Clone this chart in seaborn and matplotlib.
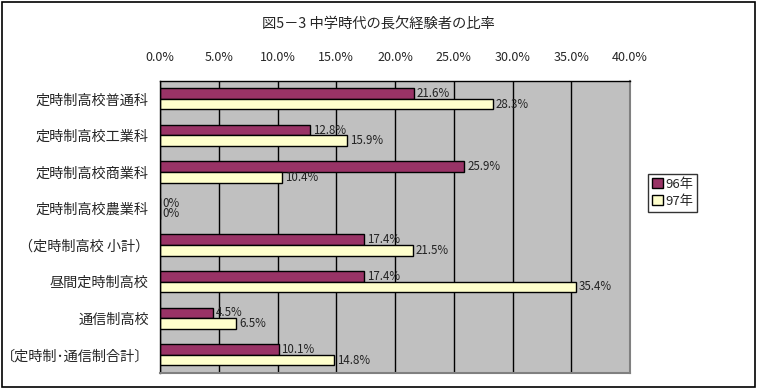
import pandas as pd
import seaborn as sns
import matplotlib.pyplot as plt
from matplotlib.patches import Rectangle
from matplotlib.ticker import FixedLocator, FuncFormatter

# データ
categories = ['定時制高校普通科', '定時制高校工業科', '定時制高校商業科', '定時制高校農業科',
              '（定時制高校 小計）', '昼間定時制高校', '通信制高校', '〔定時制･通信制合計〕']
years = ['96年', '97年']
vals_96 = [21.6, 12.8, 25.9, 0.0, 17.4, 17.4, 4.5, 10.1]
vals_97 = [28.3, 15.9, 10.4, 0.0, 21.5, 35.4, 6.5, 14.8]
colors = ['#993366', '#FFFFCC']

df = pd.DataFrame({
    'cat': categories * 2,
    'val': vals_96 + vals_97,
    'year': [years[0]] * len(categories) + [years[1]] * len(categories),
})

sns.set_style('white')
plt.rcParams['font.family'] = ['Noto Sans CJK JP', 'DejaVu Sans']

fig = plt.figure(figsize=(7.57, 3.89), dpi=100)
ax = fig.add_axes([160 / 757, 1 - 373 / 389, 470 / 757, 292.5 / 389])
ax.set_facecolor('#C0C0C0')

sns.barplot(data=df, y='cat', x='val', hue='year', order=categories, hue_order=years,
            palette=colors, width=0.58, edgecolor='black', linewidth=1.0,
            orient='h', saturation=1, ax=ax, legend=True)

# データラベル
for cont in ax.containers:
    labels = ['0%' if v == 0 else f'{v:.1f}%' for v in cont.datavalues]
    ax.bar_label(cont, labels=labels, padding=2, fontsize=8.3, color='#222222')

ax.set_xlim(0, 40)
ax.set_ylim(len(categories) - 0.5, -0.5)
ax.xaxis.tick_top()
ax.xaxis.set_major_locator(FixedLocator([0, 5, 10, 15, 20, 25, 30, 35, 40]))
ax.xaxis.set_major_formatter(FuncFormatter(lambda x, p: f'{x:.1f}%'))
ax.tick_params(axis='x', length=0, pad=12, labelsize=9)
ax.grid(axis='x', color='black', linewidth=1)
ax.set_axisbelow(True)

ax.tick_params(axis='y', which='major', length=0, pad=8, labelsize=10.2)
ax.yaxis.set_minor_locator(FixedLocator([i + 0.5 for i in range(len(categories) - 1)]))
ax.tick_params(axis='y', which='minor', length=4, width=1, color='black', direction='out')

ax.set_xlabel('')
ax.set_ylabel('')
for s in ['top', 'left']:
    ax.spines[s].set_color('black')
    ax.spines[s].set_linewidth(1)
for s in ['right', 'bottom']:
    ax.spines[s].set_color('#808080')
    ax.spines[s].set_linewidth(1.5)

leg = ax.legend(loc='upper left', bbox_to_anchor=(648 / 757, 1 - 174 / 389),
                bbox_transform=fig.transFigure, frameon=True, fancybox=False,
                edgecolor='black', fontsize=9.5, handlelength=0.8, handleheight=0.8,
                handletextpad=0.2, borderpad=0.3, labelspacing=0.3, borderaxespad=0)
leg.get_frame().set_linewidth(1)

fig.text(0.5, 1 - 24 / 389, '図5－3 中学時代の長欠経験者の比率', ha='center', va='center', fontsize=10.3)

fig.patches.append(Rectangle((0.002, 0.004), 0.995, 0.992, transform=fig.transFigure,
                             fill=False, edgecolor='black', linewidth=1.2))

plt.savefig('out.png', dpi=100)
